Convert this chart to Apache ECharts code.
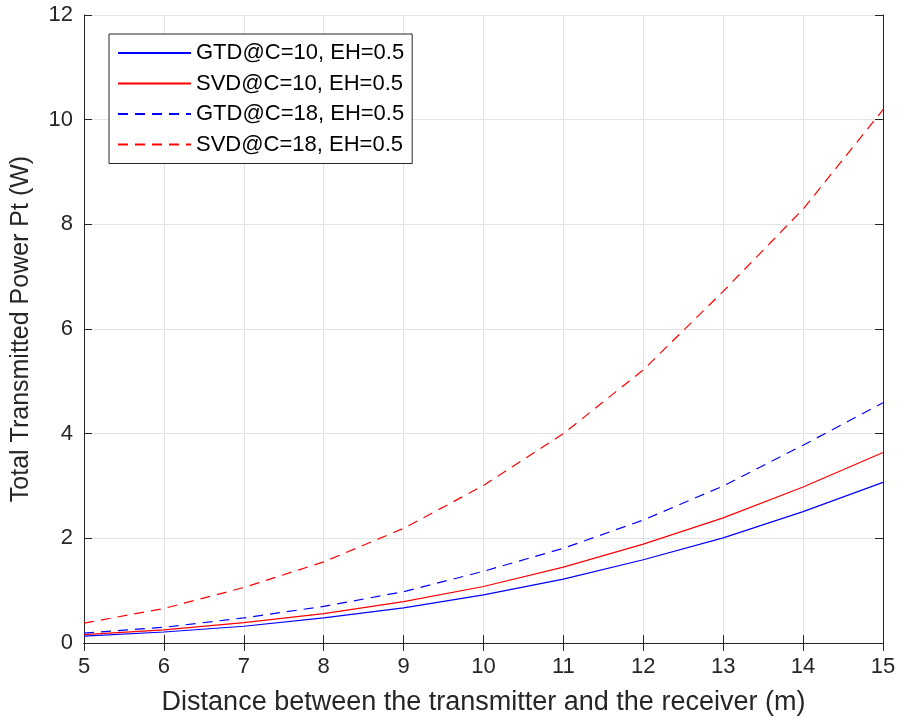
<!DOCTYPE html>
<html>
<head>
<meta charset="utf-8">
<title>Total Transmitted Power</title>
<script src="https://cdn.jsdelivr.net/npm/echarts@6/dist/echarts.min.js"></script>
<style>
  html, body { margin: 0; padding: 0; background: #fff; }
  #main { width: 899px; height: 721px; }
</style>
</head>
<body>
<div id="main"></div>
<script>
// distance (m)
var distance = [5, 6, 7, 8, 9, 10, 11, 12, 13, 14, 15];
// total transmitted power Pt (W)
var gtdC10 = [0.13, 0.21, 0.32, 0.48, 0.67, 0.92, 1.22, 1.59, 2.01, 2.51, 3.07];
var svdC10 = [0.16, 0.25, 0.39, 0.56, 0.79, 1.08, 1.45, 1.89, 2.39, 2.98, 3.64];
var gtdC18 = [0.19, 0.30, 0.48, 0.70, 0.98, 1.37, 1.81, 2.35, 3.00, 3.78, 4.59];
var svdC18 = [0.38, 0.66, 1.06, 1.55, 2.19, 3.01, 4.00, 5.22, 6.72, 8.29, 10.19];
var names = ['GTD@C=10, EH=0.5', 'SVD@C=10, EH=0.5', 'GTD@C=18, EH=0.5', 'SVD@C=18, EH=0.5'];

function pairs(ys) {
  return distance.map(function (x, i) { return [x, ys[i]]; });
}

var axisCol = '#262626';
var font = 'Liberation Sans, Arial, sans-serif';

function mkSeries(name, ys, color, dashed) {
  return {
    name: name,
    type: 'line',
    data: pairs(ys),
    symbol: 'none',
    lineStyle: { color: color, width: 1.2, type: dashed ? [10, 7] : 'solid' },
    itemStyle: { color: color }
  };
}

// top / right axes only close the box (ticks, no labels)
function boxAxis(pos, min, max, step) {
  return {
    type: 'value', min: min, max: max, interval: step, position: pos,
    axisLine: { show: true, lineStyle: { color: axisCol, width: 1 } },
    axisTick: { show: true, inside: true, length: 8, lineStyle: { color: axisCol } },
    axisLabel: { show: false },
    splitLine: { show: false }
  };
}

var chart = echarts.init(document.getElementById('main'));
chart.setOption({
  backgroundColor: '#fff',
  animation: false,
  grid: { left: 84, right: 16, top: 15, bottom: 76 },
  legend: {
    left: 109, top: 34,
    orient: 'vertical',
    backgroundColor: '#fff',
    borderColor: axisCol, borderWidth: 1,
    padding: [8, 8, 8, 8],
    itemWidth: 73, itemHeight: 14, itemGap: 8.5,
    itemStyle: { opacity: 0 },
    textStyle: { fontFamily: font, fontSize: 22, color: '#000' },
    data: names
  },
  xAxis: [{
    type: 'value', min: 5, max: 15, interval: 1,
    name: 'Distance between the transmitter and the receiver (m)',
    nameLocation: 'middle', nameGap: 46,
    nameTextStyle: { fontFamily: font, fontSize: 27, color: '#262626' },
    axisLine: { show: true, lineStyle: { color: axisCol, width: 1 } },
    axisTick: { show: true, inside: true, length: 8, lineStyle: { color: axisCol } },
    axisLabel: { fontFamily: font, fontSize: 22, color: '#262626', margin: 13 },
    splitLine: { show: true, lineStyle: { color: '#e3e3e3', width: 1 } }
  }, boxAxis('top', 5, 15, 1)],
  yAxis: [{
    type: 'value', min: 0, max: 12, interval: 2,
    name: 'Total Transmitted Power Pt (W)',
    nameLocation: 'middle', nameGap: 50,
    nameTextStyle: { fontFamily: font, fontSize: 25, color: '#262626' },
    axisLine: { show: true, lineStyle: { color: axisCol, width: 1 } },
    axisTick: { show: true, inside: true, length: 8, lineStyle: { color: axisCol } },
    axisLabel: { fontFamily: font, fontSize: 22, color: '#262626', margin: 11 },
    splitLine: { show: true, lineStyle: { color: '#e3e3e3', width: 1 } }
  }, boxAxis('right', 0, 12, 2)],
  series: [
    mkSeries(names[0], gtdC10, '#0000ff', false),
    mkSeries(names[1], svdC10, '#ff0000', false),
    mkSeries(names[2], gtdC18, '#0000ff', true),
    mkSeries(names[3], svdC18, '#ff0000', true)
  ]
});
</script>
</body>
</html>
